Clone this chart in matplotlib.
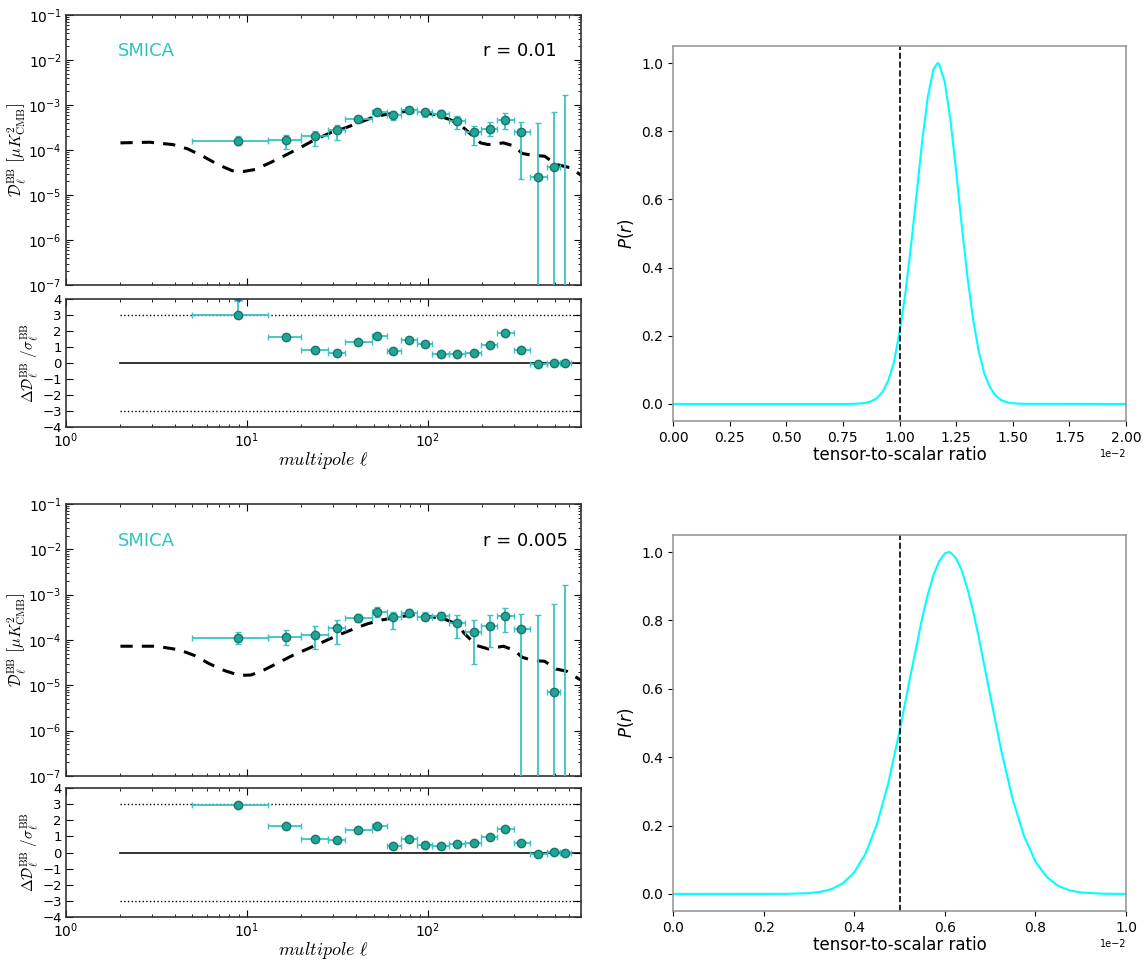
import numpy as np
import matplotlib
matplotlib.use('Agg')
import matplotlib.pyplot as plt
from matplotlib.ticker import LogLocator, NullFormatter, MultipleLocator

# multipole bins (edges and centres)
ELL_LO = [5, 13, 20, 28, 35, 49, 59, 71, 87, 105, 130, 161, 197, 242, 298, 364, 452, 534]
ELL_HI = [13, 20, 28, 35, 49, 59, 71, 87, 105, 130, 161, 197, 242, 298, 364, 452, 534, 617]
ELL_C = [8.9, 16.4, 23.9, 31.4, 41.2, 52.6, 64.4, 78.7, 96.2, 118, 145, 179, 219, 268, 328, 405, 495, 574]

# ---- r = 0.01 ----
DL_A = [1.6e-4, 1.66e-4, 2.0e-4, 2.85e-4, 4.8e-4, 7.0e-4, 6.1e-4, 7.9e-4, 7.0e-4,
        6.45e-4, 4.5e-4, 2.57e-4, 2.9e-4, 4.7e-4, 2.57e-4, 2.5e-5, 4.2e-5, 1e-9]
DL_A_LO = [1.3e-4, 1.05e-4, 1.2e-4, 1.7e-4, 4.0e-4, 6.1e-4, 4.7e-4, 6.6e-4, 5.4e-4,
           5.4e-4, 2.9e-4, 1.3e-4, 2.0e-4, 2.9e-4, 2.3e-5, 1e-9, 1e-9, 1e-9]
DL_A_HI = [2.0e-4, 2.2e-4, 2.6e-4, 3.6e-4, 5.6e-4, 7.9e-4, 7.2e-4, 8.9e-4, 7.9e-4,
           7.6e-4, 5.6e-4, 3.5e-4, 4.2e-4, 6.5e-4, 4.3e-4, 4.0e-4, 7.0e-4, 1.7e-3]
RES_A = [3.0, 1.6, 0.78, 0.62, 1.32, 1.71, 0.74, 1.43, 1.16,
         0.56, 0.54, 0.62, 1.1, 1.88, 0.78, -0.06, 0.02, 0.02]
TH_A_ELL = [2, 2.9, 3.9, 4.7, 5.7, 6.9, 8.3, 9.6, 11.1, 13.4, 16.2, 19.6, 23.8, 28.8, 34.9, 42.2, 51.2,
            62, 75, 91, 110, 133, 154, 178, 195, 215, 261, 301, 331, 382, 441, 509, 617, 705]
TH_A = [1.44e-4, 1.49e-4, 1.32e-4, 1.06e-4, 7.3e-5, 4.77e-5, 3.46e-5, 3.34e-5, 3.7e-5, 5.2e-5,
        7.55e-5, 1.12e-4, 1.71e-4, 2.4e-4, 3.1e-4, 4.13e-4, 5.6e-4, 6.4e-4, 7.2e-4, 6.9e-4,
        6.1e-4, 4.7e-4, 3.37e-4, 2.0e-4, 1.44e-4, 1.32e-4, 1.44e-4, 1.22e-4, 8.4e-5, 7.55e-5,
        7.3e-5, 4.8e-5, 4.0e-5, 2.7e-5]

# ---- r = 0.005 ----
DL_B = [1.12e-4, 1.19e-4, 1.26e-4, 1.86e-4, 3.0e-4, 4.13e-4, 3.2e-4, 3.93e-4, 3.3e-4,
        3.37e-4, 2.4e-4, 1.54e-4, 1.99e-4, 3.37e-4, 1.74e-4, 1e-9, 7.1e-6, 1e-9]
DL_B_LO = [8.0e-5, 7.8e-5, 6.3e-5, 8.3e-5, 2.5e-4, 3.2e-4, 1.75e-4, 3.2e-4, 2.7e-4,
           3.0e-4, 1.1e-4, 3.0e-5, 7.0e-5, 1.5e-4, 1e-9, 1e-9, 1e-9, 1e-9]
DL_B_HI = [1.5e-4, 1.7e-4, 2.0e-4, 2.7e-4, 3.8e-4, 5.3e-4, 4.1e-4, 4.9e-4, 4.1e-4,
           4.1e-4, 3.5e-4, 2.7e-4, 3.5e-4, 5.2e-4, 3.8e-4, 3.5e-4, 6.3e-4, 1.6e-3]
RES_B = [2.94, 1.62, 0.83, 0.77, 1.4, 1.62, 0.43, 0.85, 0.47,
         0.43, 0.51, 0.57, 0.95, 1.48, 0.59, -0.08, 0.02, -0.02]
TH_B_ELL = [2, 3.18, 4.24, 5.14, 6.22, 7.53, 9.1, 10.5, 12.2, 14.7, 17.8, 21.6, 26.1, 31.6, 38.2, 46.3,
            56, 67.8, 82, 99.4, 120, 143, 161, 186, 215, 261, 301, 331, 382, 441, 509, 585, 705]
TH_B = [7.3e-5, 7.3e-5, 6.05e-5, 4.54e-5, 2.97e-5, 2.11e-5, 1.66e-5, 1.69e-5, 2.11e-5, 3.07e-5,
        4.54e-5, 6.37e-5, 8.95e-5, 1.26e-4, 1.71e-4, 2.28e-4, 2.79e-4, 3.2e-4, 3.6e-4, 3.31e-4,
        3.04e-4, 2.28e-4, 1.32e-4, 7.55e-5, 6.37e-5, 7.3e-5, 5.86e-5, 4.17e-5, 3.52e-5, 3.4e-5,
        2.3e-5, 2.04e-5, 1.27e-5]

# ---- likelihood of r (r in units of 1e-2) ----
R_A = [0.0, 0.75, 0.80, 0.825, 0.85, 0.875, 0.90, 0.925, 0.95, 0.975, 1.00, 1.025, 1.05, 1.075,
       1.10, 1.125, 1.15, 1.168, 1.175, 1.20, 1.225, 1.25, 1.275, 1.30, 1.325, 1.35, 1.375, 1.40,
       1.425, 1.45, 1.475, 1.50, 1.55, 2.0]
P_A = [0.0, 0.0, 0.0005, 0.0013, 0.0033, 0.0078, 0.0172, 0.0354, 0.068, 0.121, 0.21, 0.32, 0.46,
       0.613, 0.77, 0.901, 0.982, 1.0, 0.997, 0.944, 0.832, 0.683, 0.523, 0.373, 0.248, 0.154,
       0.088, 0.048, 0.024, 0.011, 0.0048, 0.002, 0.0003, 0.0]
R_B = [0.0, 0.25, 0.30, 0.325, 0.35, 0.375, 0.40, 0.425, 0.45, 0.475, 0.50, 0.525, 0.55, 0.5625,
       0.575, 0.5875, 0.60, 0.608, 0.6125, 0.625, 0.6375, 0.65, 0.6625, 0.675, 0.70, 0.725, 0.75,
       0.775, 0.80, 0.825, 0.85, 0.875, 0.90, 0.95, 1.0]
P_B = [0.0, 0.0003, 0.0023, 0.006, 0.0143, 0.031, 0.063, 0.118, 0.203, 0.323, 0.475, 0.644, 0.807,
       0.876, 0.933, 0.973, 0.996, 1.0, 0.999, 0.982, 0.946, 0.893, 0.827, 0.751, 0.582, 0.417,
       0.276, 0.169, 0.095, 0.0495, 0.0238, 0.0106, 0.0043, 0.0006, 0.0]

PT_FACE = '#22a596'
PT_EDGE = '#15776c'
BAR_COL = '#3cc3c3'


def draw_spectrum(ax, axr, dl, lo, hi, res, th_ell, th, rlabel):
    c = np.array(ELL_C)
    xerr = [c - np.array(ELL_LO), np.array(ELL_HI) - c]
    dl = np.array(dl)
    yerr = [dl - np.array(lo), np.array(hi) - dl]

    ax.plot(th_ell, th, color='black', ls='--', lw=2.2, dashes=(4, 3), zorder=2)
    ax.errorbar(c, dl, xerr=xerr, yerr=yerr, fmt='o', ms=6, mfc=PT_FACE, mec=PT_EDGE,
                ecolor=BAR_COL, elinewidth=1.3, capsize=2, zorder=3)
    ax.set_xscale('log')
    ax.set_yscale('log')
    ax.set_xlim(1, 700)
    ax.set_ylim(1e-7, 1e-1)
    ax.yaxis.set_major_locator(LogLocator(base=10, numticks=10))
    ax.yaxis.set_minor_locator(LogLocator(base=10, subs=np.arange(2, 10), numticks=10))
    ax.yaxis.set_minor_formatter(NullFormatter())
    ax.set_xticklabels([])
    ax.xaxis.set_minor_formatter(NullFormatter())
    ax.set_ylabel(r'$\mathcal{D}_\ell^{\rm BB}\ \left[\mu K^2_{\rm CMB}\right]$', fontsize=11.5,
                  math_fontfamily='cm', labelpad=0)
    ax.text(0.10, 0.865, 'SMICA', color='#2ec4c4', fontsize=13, transform=ax.transAxes, va='center')
    ax.text(0.81, 0.865, rlabel, color='black', fontsize=13, transform=ax.transAxes, va='center')

    # residuals
    axr.plot([2, 700], [0, 0], color='#222222', lw=1.3, zorder=1)
    axr.plot([2, 700], [3, 3], color='black', ls=':', lw=1.0, zorder=1)
    axr.plot([2, 700], [-3, -3], color='black', ls=':', lw=1.0, zorder=1)
    axr.errorbar(c, res, xerr=xerr, fmt='o', ms=6, mfc=PT_FACE, mec=PT_EDGE,
                 ecolor=BAR_COL, elinewidth=1.3, capsize=2, zorder=3)
    axr.set_xscale('log')
    axr.set_xlim(1, 700)
    axr.set_ylim(-4, 4)
    axr.yaxis.set_major_locator(MultipleLocator(1))
    axr.xaxis.set_minor_formatter(NullFormatter())
    axr.set_xlabel(r'$multipole\ \ell$', fontsize=13, math_fontfamily='cm', labelpad=0)
    axr.set_ylabel(r'$\Delta\mathcal{D}_\ell^{\rm BB}\ /\sigma_\ell^{\rm BB}$', fontsize=11,
                   math_fontfamily='cm', labelpad=1)

    for a in (ax, axr):
        a.tick_params(which='both', direction='in', top=True, right=True, labelsize=10, pad=3)
        a.tick_params(which='major', length=5)
        a.tick_params(which='minor', length=2.5)
        for s in a.spines.values():
            s.set_color('#333333')
            s.set_linewidth(1.2)
    axr.tick_params(axis='y', labelsize=9.5)


def draw_like(ax, r, p, r_true):
    ax.plot(np.array(r) * 1e-2, p, color='cyan', lw=1.5)
    ax.axvline(r_true, color='black', ls='--', lw=1.2)
    ax.set_xlim(0, np.max(r) * 1e-2)
    ax.set_ylim(-0.05, 1.05)
    ax.ticklabel_format(axis='x', style='sci', scilimits=(0, 0))
    ax.set_xlabel('tensor-to-scalar ratio', fontsize=12, labelpad=1)
    ax.set_ylabel('$P(r)$', fontsize=12)
    ax.tick_params(labelsize=10)
    ax.xaxis.get_offset_text().set_fontsize(7)
    for s in ax.spines.values():
        s.set_color('#999999')
        s.set_linewidth(1.2)


fig = plt.figure(figsize=(11.45, 9.61), dpi=100)

ax1 = fig.add_axes([0.0576, 0.7034, 0.4498, 0.2810])
ax1r = fig.add_axes([0.0576, 0.5557, 0.4498, 0.1332])
draw_spectrum(ax1, ax1r, DL_A, DL_A_LO, DL_A_HI, RES_A, TH_A_ELL, TH_A, 'r = 0.01')
# first residual bin runs off the top of the panel
ax1r.errorbar(ELL_C[0], RES_A[0], yerr=[[0], [0.85]], lolims=True, fmt='none',
              ecolor=BAR_COL, elinewidth=1.3, capsize=3)

ax2 = fig.add_axes([0.0576, 0.1925, 0.4498, 0.2830])
ax2r = fig.add_axes([0.0576, 0.0458, 0.4498, 0.1342])
draw_spectrum(ax2, ax2r, DL_B, DL_B_LO, DL_B_HI, RES_B, TH_B_ELL, TH_B, 'r = 0.005')

ax3 = fig.add_axes([0.5878, 0.5619, 0.3956, 0.3902])
draw_like(ax3, R_A, P_A, 0.01)

ax4 = fig.add_axes([0.5878, 0.0520, 0.3956, 0.3913])
draw_like(ax4, R_B, P_B, 0.005)

fig.savefig('out.png', dpi=100)
